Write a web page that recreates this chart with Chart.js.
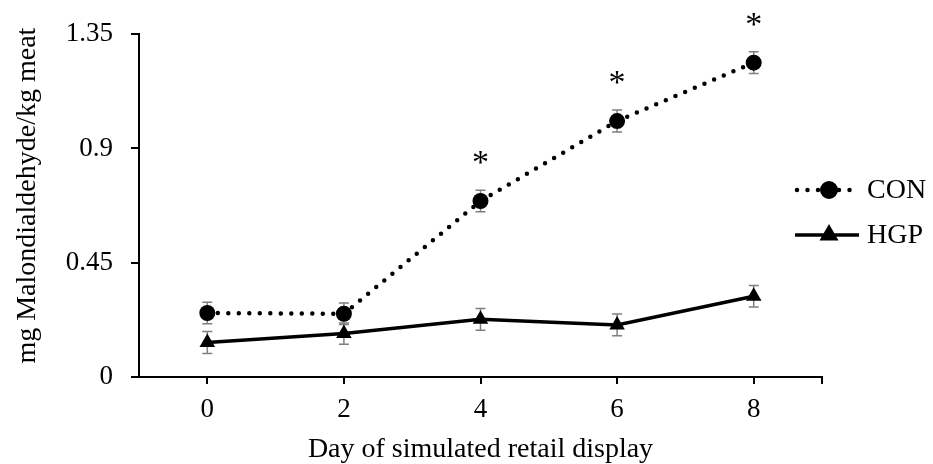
<!DOCTYPE html>
<html>
<head>
<meta charset="utf-8">
<script src="https://cdn.jsdelivr.net/npm/chart.js@4"></script>
<style>
  html, body { margin: 0; padding: 0; background: #fff; }
  #wrap { width: 933px; height: 464px; }
</style>
</head>
<body>
<div id="wrap"><canvas id="chart" width="933" height="464"></canvas></div>
<script>
// data
const days = ["0", "2", "4", "6", "8"];
const conValues = [0.252, 0.249, 0.693, 1.008, 1.238];
const conErrors = [0.042, 0.042, 0.042, 0.043, 0.043];
const hgpValues = [0.136, 0.171, 0.227, 0.205, 0.318];
const hgpErrors = [0.043, 0.042, 0.043, 0.043, 0.042];
const conSignificant = [false, false, true, true, true];
const yTicks = [0, 0.45, 0.9, 1.35];
const yTitle = "mg Malondialdehyde/kg meat";
const xTitle = "Day of simulated retail display";

const FONT = "'Liberation Serif', 'Times New Roman', serif";
const errors = [conErrors, hgpErrors];

// error bars under the markers
const errorBars = {
    id: "errorBars",
    beforeDatasetsDraw(chart) {
        const ctx = chart.ctx;
        const y = chart.scales.y;
        ctx.save();
        ctx.strokeStyle = "#7f7f7f";
        ctx.lineWidth = 1.5;
        chart.data.datasets.forEach((ds, di) => {
            const meta = chart.getDatasetMeta(di);
            meta.data.forEach((pt, i) => {
                const v = ds.data[i], e = errors[di][i];
                const top = y.getPixelForValue(v + e);
                const bot = y.getPixelForValue(v - e);
                ctx.beginPath();
                ctx.moveTo(pt.x, top); ctx.lineTo(pt.x, bot);
                ctx.moveTo(pt.x - 5, top); ctx.lineTo(pt.x + 5, top);
                ctx.moveTo(pt.x - 5, bot); ctx.lineTo(pt.x + 5, bot);
                ctx.stroke();
            });
        });
        ctx.restore();
    }
};

// asterisks, y title, right-end tick of x axis, and legend
const extras = {
    id: "extras",
    afterDraw(chart) {
        const ctx = chart.ctx;
        const area = chart.chartArea;
        const meta = chart.getDatasetMeta(0);
        ctx.save();
        ctx.fillStyle = "#000";
        ctx.font = "34px " + FONT;
        ctx.textAlign = "center";
        ctx.textBaseline = "middle";
        meta.data.forEach((pt, i) => {
            if (conSignificant[i]) ctx.fillText("*", pt.x, pt.y - 37);
        });

        // y title, sits a little above the middle of the axis
        ctx.save();
        ctx.translate(28, (area.top + area.bottom) / 2 - 10);
        ctx.rotate(-Math.PI / 2);
        ctx.font = "28px " + FONT;
        ctx.fillText(yTitle, 0, 0);
        ctx.restore();

        ctx.strokeStyle = "#000";
        ctx.lineWidth = 2;
        ctx.beginPath();
        ctx.moveTo(area.right, area.bottom);
        ctx.lineTo(area.right, area.bottom + 7);
        ctx.stroke();

        // legend
        const lx = area.right - 27, cx = lx + 34, tx = lx + 72;
        const rows = [{ y: 190, label: "CON", dash: true, style: "circle", r: 8 },
                      { y: 235, label: "HGP", dash: false, style: "triangle", r: 9 }];
        rows.forEach(row => {
            ctx.save();
            ctx.lineWidth = row.dash ? 4.5 : 3.5;
            ctx.lineCap = row.dash ? "round" : "butt";
            ctx.setLineDash(row.dash ? [0, 10.5] : []);
            ctx.beginPath();
            ctx.moveTo(row.dash ? lx + 2 : lx, row.y);
            ctx.lineTo(lx + 64, row.y);
            ctx.stroke();
            ctx.restore();
            Chart.helpers.drawPoint(ctx, { pointStyle: row.style, radius: row.r, borderWidth: 1 }, cx, row.y);
            ctx.fill();
            ctx.font = "28px " + FONT;
            ctx.textAlign = "left";
            ctx.fillText(row.label, tx, row.y + 1);
        });
        ctx.restore();
    }
};

new Chart(document.getElementById("chart"), {
    type: "line",
    data: {
        labels: days,
        datasets: [
            {
                label: "CON",
                data: conValues,
                borderColor: "#000",
                backgroundColor: "#000",
                borderWidth: 4.5,
                borderDash: [0, 10.5],
                borderCapStyle: "round",
                pointStyle: "circle",
                pointRadius: 8,
                pointBorderWidth: 0,
                tension: 0
            },
            {
                label: "HGP",
                data: hgpValues,
                borderColor: "#000",
                backgroundColor: "#000",
                borderWidth: 3.5,
                pointStyle: "triangle",
                pointRadius: 9,
                pointBorderWidth: 0,
                tension: 0
            }
        ]
    },
    options: {
        responsive: false,
        animation: false,
        devicePixelRatio: 1,
        layout: { padding: { top: 33, right: 111, bottom: 0, left: 0 } },
        plugins: { legend: { display: false }, tooltip: { enabled: false } },
        scales: {
            x: {
                type: "category",
                offset: true,
                afterFit(scale) { scale.height = 87; },
                grid: { display: true, drawOnChartArea: false, drawTicks: true, tickLength: 7, color: "#000", lineWidth: 2, offset: false },
                border: { display: true, color: "#000", width: 2 },
                ticks: { color: "#000", font: { family: FONT, size: 27 }, padding: 10, maxRotation: 0 },
                title: { display: true, text: xTitle, color: "#000",
                         font: { family: FONT, size: 28, lineHeight: 1 }, padding: { top: 0, bottom: 0 } }
            },
            y: {
                min: 0,
                max: 1.35,
                afterFit(scale) { scale.width = 139; },
                afterBuildTicks(scale) { scale.ticks = yTicks.map(v => ({ value: v })); },
                grid: { display: true, drawOnChartArea: false, drawTicks: true, tickLength: 8, color: "#000", lineWidth: 2 },
                border: { display: true, color: "#000", width: 2 },
                ticks: { color: "#000", font: { family: FONT, size: 27 }, padding: 18,
                         callback: v => String(Number(v.toFixed(2))) }
            }
        }
    },
    plugins: [errorBars, extras]
});
</script>
</body>
</html>
